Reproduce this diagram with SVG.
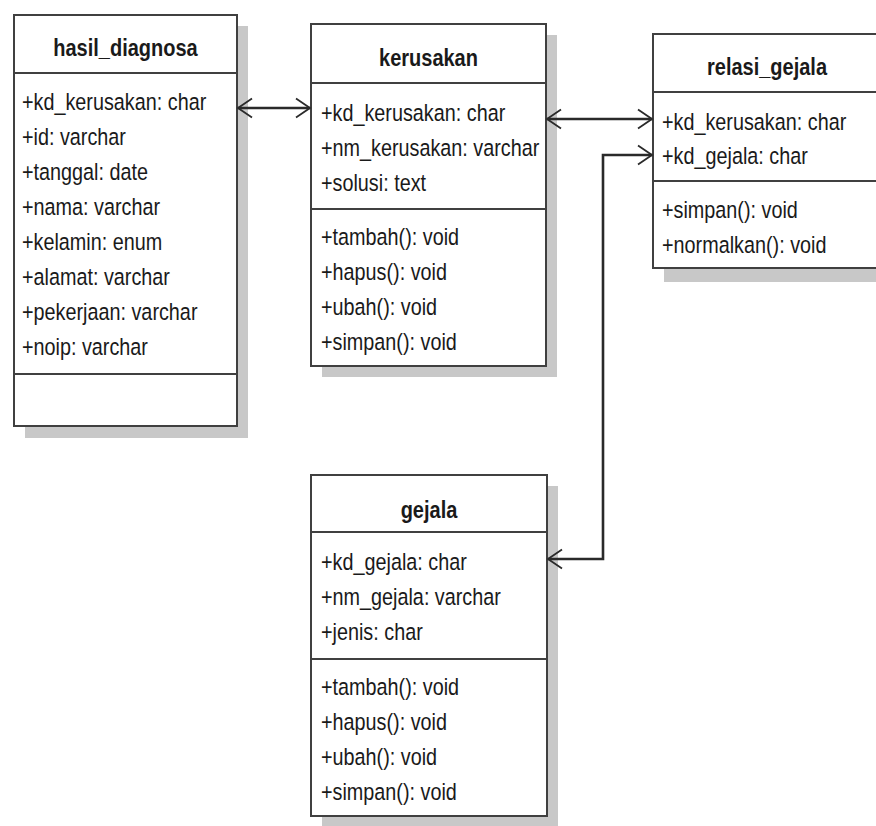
<svg xmlns="http://www.w3.org/2000/svg" width="876" height="826" viewBox="0 0 876 826">
<defs>
<style>
.shadow{fill:#c8c8c8;stroke:none}
.box{fill:#ffffff;stroke:#404040;stroke-width:2}
.div{stroke:#404040;stroke-width:2}
.title{font-family:"Liberation Sans",Arial,sans-serif;font-size:20px;font-weight:bold;fill:#1a1a1a;text-anchor:middle}
.attr{font-family:"Liberation Sans",Arial,sans-serif;font-size:19.8px;fill:#1a1a1a}
.conn{fill:none;stroke:#2a2a2a;stroke-width:2.6}
</style>
<marker id="arr" markerUnits="userSpaceOnUse" markerWidth="18" markerHeight="22" viewBox="0 0 18 22" refX="16" refY="11" orient="auto-start-reverse">
<path d="M2,1.5 L16,11 L2,20.5" fill="none" stroke="#2a2a2a" stroke-width="1.8"/>
</marker>
</defs>
<rect width="876" height="826" fill="#ffffff"/>

<g id="hasil_diagnosa">
<rect class="shadow" x="25" y="26" width="223" height="412"/>
<rect class="box" x="14" y="15" width="223" height="411"/>
<line class="div" x1="14" y1="73" x2="237" y2="73"/>
<line class="div" x1="14" y1="374" x2="237" y2="374"/>
<text class="title" transform="matrix(1,0,0,1.2,125.5,56)">hasil_diagnosa</text>
<text class="attr" transform="matrix(1,0,0,1.2,22,110)">+kd_kerusakan: char</text>
<text class="attr" transform="matrix(1,0,0,1.2,22,145)">+id: varchar</text>
<text class="attr" transform="matrix(1,0,0,1.2,22,180)">+tanggal: date</text>
<text class="attr" transform="matrix(1,0,0,1.2,22,215)">+nama: varchar</text>
<text class="attr" transform="matrix(1,0,0,1.2,22,250)">+kelamin: enum</text>
<text class="attr" transform="matrix(1,0,0,1.2,22,285)">+alamat: varchar</text>
<text class="attr" transform="matrix(1,0,0,1.2,22,320)">+pekerjaan: varchar</text>
<text class="attr" transform="matrix(1,0,0,1.2,22,355)">+noip: varchar</text>
</g>

<g id="kerusakan">
<rect class="shadow" x="322" y="35" width="235" height="342"/>
<rect class="box" x="311" y="24" width="235" height="342"/>
<line class="div" x1="311" y1="83" x2="546" y2="83"/>
<line class="div" x1="311" y1="209" x2="546" y2="209"/>
<text class="title" transform="matrix(1,0,0,1.2,428.5,66)">kerusakan</text>
<text class="attr" transform="matrix(1,0,0,1.2,321,121)">+kd_kerusakan: char</text>
<text class="attr" transform="matrix(1,0,0,1.2,321,156)">+nm_kerusakan: varchar</text>
<text class="attr" transform="matrix(1,0,0,1.2,321,191)">+solusi: text</text>
<text class="attr" transform="matrix(1,0,0,1.2,321,245)">+tambah(): void</text>
<text class="attr" transform="matrix(1,0,0,1.2,321,280)">+hapus(): void</text>
<text class="attr" transform="matrix(1,0,0,1.2,321,315)">+ubah(): void</text>
<text class="attr" transform="matrix(1,0,0,1.2,321,350)">+simpan(): void</text>
</g>

<g id="relasi_gejala">
<rect class="shadow" x="664" y="45" width="228" height="237"/>
<rect class="box" x="653" y="34" width="228" height="234"/>
<line class="div" x1="653" y1="92" x2="881" y2="92"/>
<line class="div" x1="653" y1="181" x2="881" y2="181"/>
<text class="title" transform="matrix(1,0,0,1.2,767,75)">relasi_gejala</text>
<text class="attr" transform="matrix(1,0,0,1.2,662,130)">+kd_kerusakan: char</text>
<text class="attr" transform="matrix(1,0,0,1.2,662,164)">+kd_gejala: char</text>
<text class="attr" transform="matrix(1,0,0,1.2,662,218)">+simpan(): void</text>
<text class="attr" transform="matrix(1,0,0,1.2,662,253)">+normalkan(): void</text>
</g>

<g id="gejala">
<rect class="shadow" x="322" y="486" width="236" height="341"/>
<rect class="box" x="311" y="475" width="236" height="341"/>
<line class="div" x1="311" y1="532" x2="547" y2="532"/>
<line class="div" x1="311" y1="659" x2="547" y2="659"/>
<text class="title" transform="matrix(1,0,0,1.2,429,518)">gejala</text>
<text class="attr" transform="matrix(1,0,0,1.2,321,570)">+kd_gejala: char</text>
<text class="attr" transform="matrix(1,0,0,1.2,321,605)">+nm_gejala: varchar</text>
<text class="attr" transform="matrix(1,0,0,1.2,321,640)">+jenis: char</text>
<text class="attr" transform="matrix(1,0,0,1.2,321,695)">+tambah(): void</text>
<text class="attr" transform="matrix(1,0,0,1.2,321,730)">+hapus(): void</text>
<text class="attr" transform="matrix(1,0,0,1.2,321,765)">+ubah(): void</text>
<text class="attr" transform="matrix(1,0,0,1.2,321,800)">+simpan(): void</text>
</g>

<g id="connectors">
<path class="conn" d="M238,108 L310,108" marker-start="url(#arr)" marker-end="url(#arr)"/>
<path class="conn" d="M547,119 L652,119" marker-start="url(#arr)" marker-end="url(#arr)"/>
<path class="conn" d="M548,559 L603,559 L603,155 L652,155" marker-start="url(#arr)" marker-end="url(#arr)"/>
</g>
</svg>
